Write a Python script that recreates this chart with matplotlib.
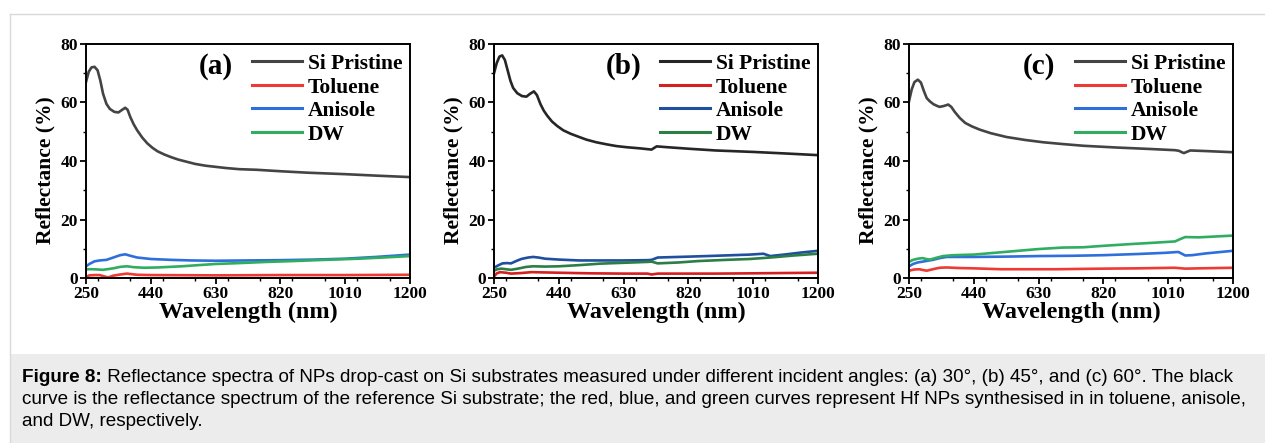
import matplotlib
matplotlib.use("Agg")
import matplotlib.pyplot as plt
from matplotlib.lines import Line2D
from matplotlib.patches import Rectangle
from matplotlib.ticker import MultipleLocator

# ---------------- data ----------------
series_names = ["Si Pristine", "Toluene", "Anisole", "DW"]
panel_labels = ["(a)", "(b)", "(c)"]
x_ticks = [250, 440, 630, 820, 1010, 1200]

# panel (a)
a_si_x = [250, 258, 266, 275, 284, 292, 300, 310, 320, 333, 345, 356, 365, 372, 380, 390, 400, 415, 430, 445, 460, 480, 500, 520, 540, 570, 600, 630, 660, 700, 750, 820, 900, 1010, 1100, 1200]
a_si_y = [67, 70.5, 72, 72.2, 71, 67.5, 63, 59.5, 57.8, 56.8, 56.6, 57.5, 58.2, 57.5, 55, 52.5, 50.5, 48, 46, 44.5, 43.3, 42.2, 41.3, 40.5, 39.9, 39, 38.4, 38, 37.6, 37.2, 37, 36.5, 36, 35.5, 35, 34.5]
a_tol_x = [250, 260, 275, 290, 305, 315, 330, 345, 370, 400, 440, 630, 820, 1010, 1200]
a_tol_y = [0.4, 0.9, 1.0, 1.0, 0.5, 0.2, 0.8, 1.1, 1.5, 1.1, 1.0, 0.9, 1.0, 1.0, 1.1]
a_ani_x = [250, 260, 275, 290, 310, 330, 350, 365, 380, 400, 440, 500, 560, 630, 720, 820, 920, 1010, 1100, 1200]
a_ani_y = [4.0, 4.8, 5.7, 6.0, 6.2, 7.0, 7.8, 8.1, 7.6, 7.0, 6.5, 6.2, 6.0, 5.9, 6.0, 6.1, 6.3, 6.6, 7.2, 8.0]
a_dw_x = [250, 270, 300, 330, 350, 370, 390, 420, 460, 530, 630, 700, 780, 860, 950, 1050, 1120, 1200]
a_dw_y = [3.0, 3.0, 2.8, 3.3, 3.8, 4.0, 3.7, 3.5, 3.6, 4.0, 4.8, 5.1, 5.5, 5.8, 6.2, 6.6, 7.0, 7.5]

# panel (b)
b_si_x = [250, 258, 266, 274, 282, 290, 298, 306, 318, 332, 345, 356, 367, 376, 386, 396, 406, 420, 435, 453, 475, 500, 521, 550, 580, 609, 640, 680, 712, 720, 727, 760, 820, 900, 1010, 1100, 1200]
b_si_y = [70, 73.5, 75.7, 76.1, 74.5, 71, 67.5, 65, 63.2, 62.2, 62, 63, 63.8, 62.5, 59.5, 57.2, 55.5, 53.5, 52, 50.5, 49.3, 48.2, 47.3, 46.4, 45.7, 45.1, 44.7, 44.3, 43.9, 44.5, 45, 44.7, 44.2, 43.6, 43.1, 42.6, 42]
b_tol_x = [250, 258, 268, 285, 300, 330, 360, 400, 440, 530, 630, 700, 712, 730, 820, 900, 1010, 1100, 1200]
b_tol_y = [0.5, 1.6, 2.0, 1.8, 1.5, 1.7, 2.0, 1.9, 1.8, 1.6, 1.5, 1.5, 1.2, 1.5, 1.5, 1.5, 1.6, 1.7, 1.8]
b_ani_x = [250, 262, 275, 288, 300, 315, 330, 350, 365, 380, 400, 440, 500, 560, 630, 700, 712, 730, 820, 900, 1000, 1040, 1060, 1100, 1150, 1200]
b_ani_y = [3.5, 4.3, 5.0, 5.1, 5.0, 5.8, 6.5, 7.0, 7.2, 7.0, 6.6, 6.3, 6.0, 6.0, 6.0, 6.1, 6.2, 7.0, 7.3, 7.6, 8.0, 8.3, 7.5, 8.0, 8.7, 9.3]
b_dw_x = [250, 260, 272, 285, 300, 320, 345, 365, 400, 440, 500, 560, 630, 700, 712, 730, 790, 850, 930, 1000, 1060, 1130, 1200]
b_dw_y = [2.5, 3.0, 3.2, 3.0, 2.8, 3.2, 3.8, 4.0, 3.9, 4.0, 4.4, 4.9, 5.2, 5.5, 5.6, 5.0, 5.3, 5.8, 6.2, 6.5, 7.0, 7.7, 8.3]

# panel (c)
c_si_x = [250, 258, 266, 276, 285, 294, 302, 311, 322, 333, 340, 352, 365, 374, 384, 399, 415, 435, 458, 490, 536, 590, 644, 700, 762, 860, 958, 1030, 1041, 1050, 1056, 1066, 1075, 1120, 1200]
c_si_y = [60.4, 64.5, 67, 67.8, 66.8, 63.8, 61.5, 60.4, 59.4, 58.8, 58.5, 58.8, 59.3, 58.5, 56.8, 54.7, 53.0, 51.8, 50.7, 49.5, 48.2, 47.2, 46.4, 45.8, 45.2, 44.6, 44.1, 43.7, 43.5, 43.0, 42.7, 43.2, 43.6, 43.4, 43.0]
c_tol_x = [250, 265, 280, 292, 302, 320, 340, 360, 400, 440, 520, 600, 680, 750, 820, 920, 1030, 1060, 1100, 1200]
c_tol_y = [2.5, 2.9, 3.0, 2.7, 2.5, 3.0, 3.5, 3.6, 3.4, 3.3, 3.0, 3.0, 3.0, 3.1, 3.2, 3.3, 3.5, 3.2, 3.3, 3.5]
c_ani_x = [250, 262, 275, 300, 320, 340, 360, 400, 440, 530, 630, 730, 820, 920, 1000, 1040, 1060, 1080, 1120, 1200]
c_ani_y = [4.0, 4.8, 5.3, 5.8, 6.2, 6.8, 7.2, 7.2, 7.2, 7.3, 7.5, 7.6, 7.8, 8.2, 8.6, 8.9, 7.7, 7.8, 8.4, 9.3]
c_dw_x = [250, 262, 276, 290, 300, 312, 330, 350, 380, 440, 540, 630, 700, 760, 820, 900, 960, 1030, 1045, 1060, 1100, 1150, 1200]
c_dw_y = [5.5, 6.2, 6.6, 6.8, 6.5, 6.3, 6.9, 7.5, 7.8, 8.0, 9.0, 9.9, 10.4, 10.5, 11.0, 11.6, 12.0, 12.5, 13.3, 14.0, 13.9, 14.2, 14.5]

panels = [
    [(a_si_x, a_si_y), (a_tol_x, a_tol_y), (a_ani_x, a_ani_y), (a_dw_x, a_dw_y)],
    [(b_si_x, b_si_y), (b_tol_x, b_tol_y), (b_ani_x, b_ani_y), (b_dw_x, b_dw_y)],
    [(c_si_x, c_si_y), (c_tol_x, c_tol_y), (c_ani_x, c_ani_y), (c_dw_x, c_dw_y)],
]
panel_colors = [
    ["#444444", "#ee3a35", "#2f6fdc", "#30ad61"],
    ["#262626", "#d42020", "#1f4f9e", "#2b7e45"],
    ["#444444", "#ee3a35", "#2f6fdc", "#30ad61"],
]

caption_bold = "Figure 8:"
caption_line1 = (" Reflectance spectra of NPs drop-cast on Si substrates measured under different incident angles: "
                 "(a) 30\u00b0, (b) 45\u00b0, and (c) 60\u00b0. The black")
caption_line2 = ("curve is the reflectance spectrum of the reference Si substrate; the red, blue, and green curves "
                 "represent Hf NPs synthesised in in toluene, anisole,")
caption_line3 = "and DW, respectively."

# ---------------- figure ----------------
W, H = 1265, 443
fig = plt.figure(figsize=(W / 100, H / 100), dpi=100)
serif = ["Liberation Serif", "DejaVu Serif"]

# page frame & caption box
fig.add_artist(Line2D([10 / W, 10 / W], [0, 1 - 14 / H], color="#d9d9d9", lw=1))
fig.add_artist(Line2D([10 / W, 1], [1 - 14 / H, 1 - 14 / H], color="#d9d9d9", lw=1))
fig.add_artist(Rectangle((10 / W, 0), 1 - 10 / W, (H - 354) / H, transform=fig.transFigure,
                         facecolor="#ececec", edgecolor="none"))

lefts = [86, 494, 909]
ax_w = 324
top, bottom = 44, 278
for i, left in enumerate(lefts):
    ax = fig.add_axes([left / W, 1 - bottom / H, ax_w / W, (bottom - top) / H])
    for j, (xs, ys) in enumerate(panels[i]):
        ax.plot(xs, ys, color=panel_colors[i][j], lw=1.9, label=series_names[j],
                solid_joinstyle="round")
    ax.set_xlim(250, 1200)
    ax.set_ylim(0, 80)
    ax.set_xticks(x_ticks)
    ax.xaxis.set_minor_locator(MultipleLocator(95))
    ax.yaxis.set_major_locator(MultipleLocator(20))
    ax.yaxis.set_minor_locator(MultipleLocator(10))
    ax.tick_params(which="major", direction="out", length=4.5, width=1.3, labelsize=12.5, pad=1.5)
    ax.tick_params(which="minor", direction="out", length=2.5, width=1.0)
    for lab in ax.get_xticklabels() + ax.get_yticklabels():
        lab.set_fontfamily(serif)
        lab.set_fontweight("bold")
    for sp in ax.spines.values():
        sp.set_linewidth(1.4)
    ax.set_xlabel("Wavelength (nm)", fontfamily=serif, fontweight="bold", fontsize=17.5, labelpad=-0.5)
    ax.set_ylabel("Reflectance (%)", fontfamily=serif, fontweight="bold", fontsize=15.5)
    ax.yaxis.set_label_coords(-0.095, 0.46)
    ax.text(0.40, 0.905, panel_labels[i], transform=ax.transAxes, ha="center", va="center",
            fontfamily=serif, fontweight="bold", fontsize=21)
    leg = ax.legend(loc="upper right", bbox_to_anchor=(1.022, 1.022), frameon=False,
                    prop={"family": serif, "weight": "bold", "size": 15.5},
                    handlelength=2.35, handletextpad=0.25, labelspacing=0.16, borderaxespad=0.3)
    for h in leg.get_lines():
        h.set_linewidth(2.2)

# caption
cap_y = [378, 400, 422]
fs = 13.6
t = fig.text(22 / W, 1 - cap_y[0] / H, caption_bold, fontfamily="Liberation Sans", fontweight="bold",
             fontsize=fs, va="center", ha="left")
fig.canvas.draw()
bb = t.get_window_extent()
fig.text(bb.x1 / W, 1 - cap_y[0] / H, caption_line1, fontfamily="Liberation Sans", fontsize=fs, va="center", ha="left")
fig.text(22 / W, 1 - cap_y[1] / H, caption_line2, fontfamily="Liberation Sans", fontsize=fs, va="center", ha="left")
fig.text(22 / W, 1 - cap_y[2] / H, caption_line3, fontfamily="Liberation Sans", fontsize=fs, va="center", ha="left")

fig.savefig("out.png", dpi=100, facecolor="white")
